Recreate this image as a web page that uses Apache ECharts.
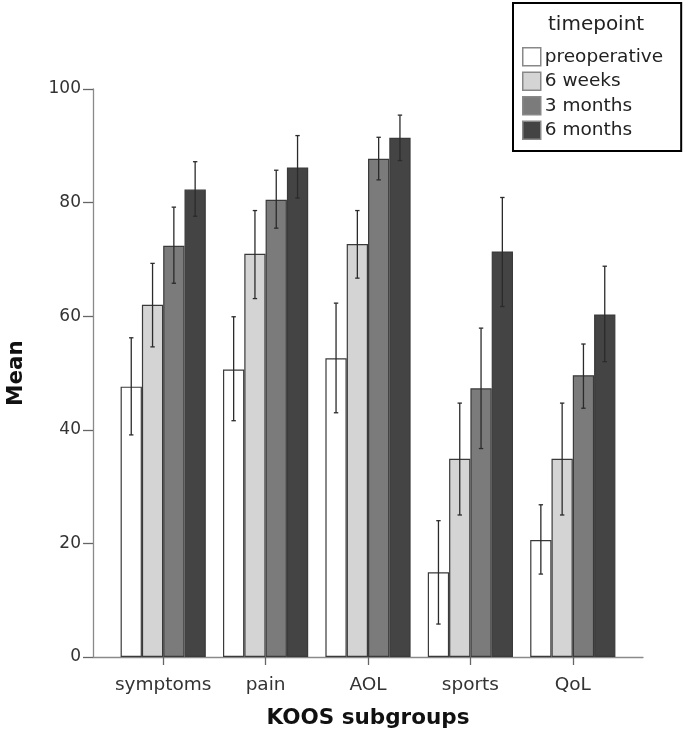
<!DOCTYPE html>
<html>
<head>
<meta charset="utf-8">
<script src="https://cdn.jsdelivr.net/npm/echarts@6/dist/echarts.min.js"></script>
<style>
html,body{margin:0;padding:0;background:#fff;}
#chart{width:685px;height:744px;}
</style>
</head>
<body>
<div id="chart"></div>
<script>
// ---- data ----
const categories = ['symptoms', 'pain', 'AOL', 'sports', 'QoL'];
const seriesNames = ['preoperative', '6 weeks', '3 months', '6 months'];
const yTicks = [0, 20, 40, 60, 80, 100];

const preop   = [47.6, 50.6, 52.6, 14.9, 20.6];
const weeks6  = [62.0, 71.0, 72.7, 34.9, 34.9];
const months3 = [72.4, 80.5, 87.7, 47.3, 49.6];
const months6 = [82.3, 86.2, 91.4, 71.4, 60.3];

const preopLow    = [39.1, 41.6, 43.0, 5.8, 14.6];
const preopHigh   = [56.2, 59.9, 62.3, 24.0, 26.8];
const weeks6Low   = [54.6, 63.1, 66.7, 25.0, 25.0];
const weeks6High  = [69.3, 78.6, 78.6, 44.7, 44.7];
const months3Low  = [65.8, 75.5, 84.0, 36.7, 43.8];
const months3High = [79.2, 85.7, 91.5, 57.9, 55.1];
const months6Low  = [77.6, 80.8, 87.4, 61.7, 52.0];
const months6High = [87.2, 91.8, 95.4, 80.9, 68.8];

// ---- styling ----
const fills = ['#ffffff', '#d4d4d4', '#7b7b7b', '#444444'];
const FONT = 'DejaVu Sans';
const BAR_FRAC = 0.208;

const means = [preop, weeks6, months3, months6];
const lows = [preopLow, weeks6Low, months3Low, months6Low];
const highs = [preopHigh, weeks6High, months3High, months6High];

const errData = [];
for (let s = 0; s < 4; s++) {
  for (let c = 0; c < categories.length; c++) {
    errData.push([c, s, lows[s][c], highs[s][c]]);
  }
}

const barSeries = seriesNames.map((name, s) => ({
  name: name,
  type: 'bar',
  xAxisIndex: 0,
  yAxisIndex: 0,
  data: means[s],
  barWidth: (BAR_FRAC * 100) + '%',
  barGap: '0%',
  itemStyle: { color: fills[s], borderColor: '#3a3a3a', borderWidth: 1.2 },
  emphasis: { disabled: true },
  silent: true
}));

const errSeries = {
  type: 'custom',
  xAxisIndex: 0,
  yAxisIndex: 0,
  data: errData,
  z: 10,
  silent: true,
  renderItem: function (params, api) {
    const c = api.value(0), s = api.value(1);
    const band = api.size([1, 0])[0];
    const off = (s - 1.5) * band * BAR_FRAC;
    const lo = api.coord([c, api.value(2)]);
    const hi = api.coord([c, api.value(3)]);
    const x = lo[0] + off;
    const cap = 2.2;
    const style = { stroke: '#2b2b2b', lineWidth: 1.3, fill: null };
    return {
      type: 'group',
      children: [
        { type: 'line', shape: { x1: x, y1: lo[1], x2: x, y2: hi[1] }, style: style },
        { type: 'line', shape: { x1: x - cap, y1: lo[1], x2: x + cap, y2: lo[1] }, style: style },
        { type: 'line', shape: { x1: x - cap, y1: hi[1], x2: x + cap, y2: hi[1] }, style: style }
      ]
    };
  }
};

const option = {
  backgroundColor: '#ffffff',
  animation: false,
  title: {
    text: 'timepoint',
    left: 543,
    top: 10,
    textStyle: { fontFamily: FONT, fontSize: 20, fontWeight: 'normal', color: '#222' }
  },
  legend: {
    data: seriesNames,
    orient: 'vertical',
    left: 513,
    top: 3,
    itemWidth: 18,
    itemHeight: 18,
    itemGap: 5,
    icon: 'rect',
    padding: [44, 18, 11, 9],
    borderColor: '#000',
    borderWidth: 2,
    backgroundColor: '#fff',
    textStyle: { fontFamily: FONT, fontSize: 18.5, color: '#222', padding: [0, 0, 0, -1] },
    itemStyle: { borderColor: '#888', borderWidth: 1.5 },
    selectedMode: false
  },
  grid: [
    { left: 112, right: 61, top: 89, bottom: 87, containLabel: false, outerBoundsMode: 'none' },
    { left: 93, right: 42, top: 89, bottom: 87, containLabel: false, outerBoundsMode: 'none' }
  ],
  xAxis: [
    {
      type: 'category',
      gridIndex: 0,
      data: categories,
      boundaryGap: true,
      axisLine: { show: false },
      axisTick: { show: true, alignWithLabel: true, interval: 0, length: 8, lineStyle: { color: '#666', width: 1.3 } },
      axisLabel: { fontFamily: FONT, fontSize: 18.5, color: '#333', margin: 19, interval: 0 }
    },
    {
      type: 'value',
      gridIndex: 1,
      min: 0,
      max: 1,
      axisLine: { show: true, lineStyle: { color: '#8a8a8a', width: 1.3 } },
      axisTick: { show: false },
      axisLabel: { show: false },
      splitLine: { show: false },
      name: 'KOOS subgroups',
      nameLocation: 'middle',
      nameGap: 50,
      nameTextStyle: { fontFamily: FONT, fontSize: 21.5, fontWeight: 'bold', color: '#111' }
    }
  ],
  yAxis: [
    {
      type: 'value',
      gridIndex: 0,
      min: 0,
      max: 100,
      interval: 20,
      show: false,
      splitLine: { show: false }
    },
    {
      type: 'value',
      gridIndex: 1,
      min: yTicks[0],
      max: yTicks[yTicks.length - 1],
      interval: 20,
      axisLine: { show: true, lineStyle: { color: '#8a8a8a', width: 1.3 } },
      axisTick: { show: true, length: 10, lineStyle: { color: '#666', width: 1.3 } },
      axisLabel: { fontFamily: FONT, fontSize: 17, color: '#333', margin: 12 },
      splitLine: { show: false },
      name: 'Mean',
      nameLocation: 'middle',
      nameGap: 66,
      nameTextStyle: { fontFamily: FONT, fontSize: 21.5, fontWeight: 'bold', color: '#111' }
    }
  ],
  series: barSeries.concat([errSeries])
};

const chart = echarts.init(document.getElementById('chart'), null, { renderer: 'canvas' });
chart.setOption(option);
</script>
</body>
</html>
